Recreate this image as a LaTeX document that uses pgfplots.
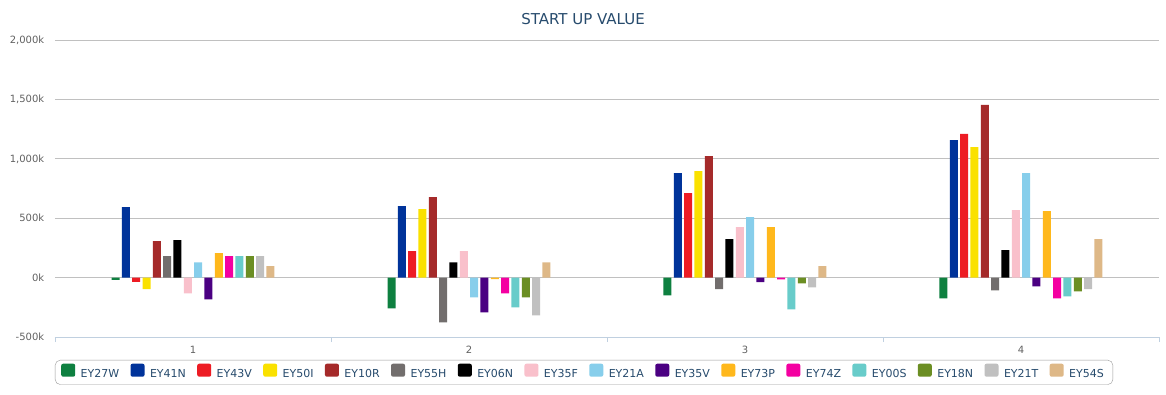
\documentclass[border=0pt]{standalone}
\usepackage{pgfplots}
\pgfplotsset{compat=1.18}
\usepackage{fontspec}
\setmainfont{DejaVu Sans}
\definecolor{c1}{HTML}{0E8040}
\definecolor{c2}{HTML}{00339A}
\definecolor{c3}{HTML}{ED1C24}
\definecolor{c4}{HTML}{FAE100}
\definecolor{c5}{HTML}{A52A2A}
\definecolor{c6}{HTML}{726E6D}
\definecolor{c7}{HTML}{000000}
\definecolor{c8}{HTML}{F9C0CB}
\definecolor{c9}{HTML}{87CEEB}
\definecolor{c10}{HTML}{4B0082}
\definecolor{c11}{HTML}{FFB81C}
\definecolor{c12}{HTML}{F400A1}
\definecolor{c13}{HTML}{68CCCA}
\definecolor{c14}{HTML}{6B8E23}
\definecolor{c15}{HTML}{C0C0C0}
\definecolor{c16}{HTML}{DEB887}
\definecolor{titlec}{HTML}{274B6D}
\definecolor{tickc}{HTML}{606060}
\definecolor{gridc}{HTML}{C0C0C0}
\definecolor{axisc}{HTML}{C0D0E0}
\begin{document}
\begin{tikzpicture}
\useasboundingbox (0,0) rectangle (1166pt,394pt);
\node[text=titlec, font=\fontsize{15}{18}\selectfont] at (583pt,375pt) {START UP VALUE};
\begin{axis}[
  at={(55pt,57pt)}, anchor=south west,
  scale only axis, width=1104pt, height=297pt,
  xmin=0.5, xmax=4.5, ymin=-500, ymax=2000,
  ybar=2.33pt, bar width=8pt,
  axis lines*=left,
  y axis line style={draw=none},
  x axis line style={draw=axisc, line width=1pt},
  xtick={1,2,3,4}, xticklabels={1,2,3,4},
  major x tick style={draw=none},
  minor xtick={0.5,1.5,2.5,3.5,4.5},
  minor x tick style={draw=axisc, line width=0.8pt},
  minor tick length=5pt,
  tick align=outside,
  ytick={-500,0,500,1000,1500,2000},
  yticklabels={{-500k},{0k},{500k},{1,000k},{1,500k},{2,000k}},
  ytick style={draw=none},
  ymajorgrids, grid style={draw=gridc, line width=0.8pt},
  tick label style={text=tickc, font=\fontsize{10}{12}\selectfont},
  yticklabel style={xshift=-3pt},
  xticklabel style={yshift=-1pt},
  every axis plot/.append style={draw=none},
  legend columns=16,
  legend image code/.code={\fill[#1, rounded corners=2pt] (0pt,-2.5pt) rectangle (14pt,10.5pt);},
  legend style={at={(0,-0.0774)}, anchor=north west, draw=gray!80, rounded corners=5pt,
    font=\fontsize{11}{13}\selectfont, text=titlec,
    inner xsep=6pt, inner ysep=3.5pt,
    nodes={inner xsep=3pt, inner ysep=2pt},
    /tikz/every odd column/.append style={column sep=2.5pt},
    /tikz/every even column/.append style={column sep=8.3pt}},
]
\addplot[fill=c1] coordinates {(1,-20) (2,-259) (3,-149) (4,-174)};
\addplot[fill=c2] coordinates {(1,593) (2,601) (3,880) (4,1158)};
\addplot[fill=c3] coordinates {(1,-37) (2,222) (3,711) (4,1209)};
\addplot[fill=c4] coordinates {(1,-98) (2,576) (3,897) (4,1099)};
\addplot[fill=c5] coordinates {(1,306) (2,677) (3,1023) (4,1453)};
\addplot[fill=c6] coordinates {(1,180) (2,-377) (3,-98) (4,-107)};
\addplot[fill=c7] coordinates {(1,315) (2,129) (3,323) (4,231)};
\addplot[fill=c8] coordinates {(1,-132) (2,222) (3,424) (4,568)};
\addplot[fill=c9] coordinates {(1,129) (2,-166) (3,509) (4,880)};
\addplot[fill=c10] coordinates {(1,-183) (2,-292) (3,-39) (4,-73)};
\addplot[fill=c11] coordinates {(1,205) (2,-12) (3,424) (4,559)};
\addplot[fill=c12] coordinates {(1,180) (2,-132) (3,-14) (4,-174)};
\addplot[fill=c13] coordinates {(1,180) (2,-250) (3,-267) (4,-157)};
\addplot[fill=c14] coordinates {(1,180) (2,-166) (3,-48) (4,-115)};
\addplot[fill=c15] coordinates {(1,180) (2,-318) (3,-82) (4,-98)};
\addplot[fill=c16] coordinates {(1,96) (2,129) (3,96) (4,323)};
\legend{EY27W,EY41N,EY43V,EY50I,EY10R,EY55H,EY06N,EY35F,EY21A,EY35V,EY73P,EY74Z,EY00S,EY18N,EY21T,EY54S}
\end{axis}
\end{tikzpicture}
\end{document}
